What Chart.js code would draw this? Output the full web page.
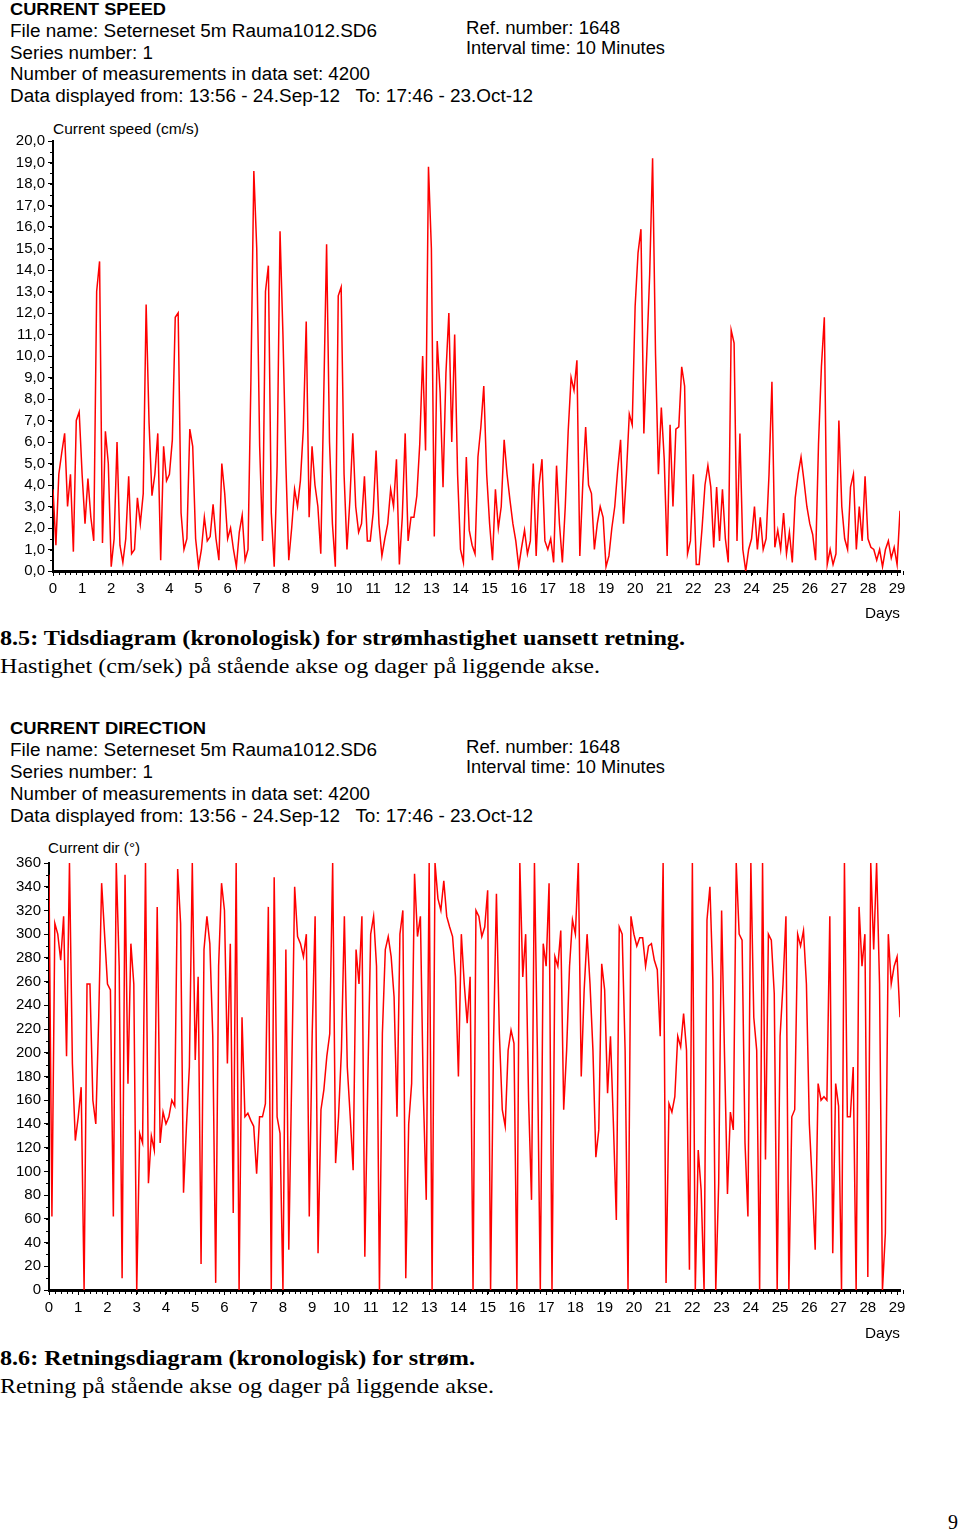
<!DOCTYPE html>
<html>
<head>
<meta charset="utf-8">
<title>Current speed / direction</title>
<script src="https://cdn.jsdelivr.net/npm/chart.js@4.4.1/dist/chart.umd.min.js"></script>
<style>
  body { margin:0; width:960px; height:1531px; background:#fff; position:relative; overflow:hidden;
         font-family:"Liberation Sans", Arial, sans-serif; color:#000; }
  .t { position:absolute; white-space:pre; line-height:1; transform-origin:0 50%; }
  .b { font-weight:bold; }
  .serif { font-family:"Liberation Serif", "Times New Roman", serif; }
  .box { position:absolute; left:0; width:960px; height:490px; }
</style>
</head>
<body>

<!-- speed header -->
<div class="t b" style="left:10px;top:1px;font-size:17px" data-w="156">CURRENT SPEED</div>
<div class="t" style="left:10px;top:22px;font-size:18px" data-w="367">File name: Seterneset 5m Rauma1012.SD6</div>
<div class="t" style="left:10px;top:44px;font-size:18px" data-w="143">Series number: 1</div>
<div class="t" style="left:10px;top:65px;font-size:18px" data-w="360">Number of measurements in data set: 4200</div>
<div class="t" style="left:10px;top:87px;font-size:18px" data-w="523">Data displayed from: 13:56 - 24.Sep-12   To: 17:46 - 23.Oct-12</div>
<div class="t" style="left:466px;top:19px;font-size:18px" data-w="154">Ref. number: 1648</div>
<div class="t" style="left:466px;top:39px;font-size:18px" data-w="199">Interval time: 10 Minutes</div>
<div class="t" style="left:53px;top:121px;font-size:15px" data-w="146">Current speed (cm/s)</div>

<div class="box" style="top:120px"><canvas id="speedChart" width="960" height="490"></canvas></div>

<div class="t" style="left:865px;top:605px;font-size:15px" data-w="35">Days</div>
<div class="t serif b" style="left:0px;top:627px;font-size:22px" data-w="685">8.5: Tidsdiagram (kronologisk) for strømhastighet uansett retning.</div>
<div class="t serif" style="left:0px;top:655px;font-size:22px" data-w="600">Hastighet (cm/sek) på stående akse og dager på liggende akse.</div>

<!-- direction header -->
<div class="t b" style="left:10px;top:720px;font-size:17px" data-w="196">CURRENT DIRECTION</div>
<div class="t" style="left:10px;top:741px;font-size:18px" data-w="367">File name: Seterneset 5m Rauma1012.SD6</div>
<div class="t" style="left:10px;top:763px;font-size:18px" data-w="143">Series number: 1</div>
<div class="t" style="left:10px;top:785px;font-size:18px" data-w="360">Number of measurements in data set: 4200</div>
<div class="t" style="left:10px;top:807px;font-size:18px" data-w="523">Data displayed from: 13:56 - 24.Sep-12   To: 17:46 - 23.Oct-12</div>
<div class="t" style="left:466px;top:738px;font-size:18px" data-w="154">Ref. number: 1648</div>
<div class="t" style="left:466px;top:758px;font-size:18px" data-w="199">Interval time: 10 Minutes</div>
<div class="t" style="left:48px;top:840px;font-size:15px" data-w="92">Current dir (°)</div>

<div class="box" style="top:840px"><canvas id="dirChart" width="960" height="490"></canvas></div>

<div class="t" style="left:865px;top:1325px;font-size:15px" data-w="35">Days</div>
<div class="t serif b" style="left:0px;top:1347px;font-size:22px" data-w="475">8.6: Retningsdiagram (kronologisk) for strøm.</div>
<div class="t serif" style="left:0px;top:1375px;font-size:22px" data-w="494">Retning på stående akse og dager på liggende akse.</div>
<div class="t serif" style="left:948px;top:1512px;font-size:20px">9</div>

<script>
/************** DATA **************/
// one reading every 0.1 day (day 0.0 .. 29.1)
const STEP_DAYS = 0.1;
const X_MAX_DAYS = 29.1;

const speedValues = [
  3.8, 1.2, 4.5, 5.5, 6.4, 3.0, 4.5, 0.9, 7.0, 7.4,
  4.5, 2.2, 4.3, 2.5, 1.4, 13.0, 14.4, 1.3, 6.5, 5.0,
  0.2, 1.5, 6.0, 1.2, 0.4, 1.5, 4.4, 0.8, 1.0, 3.4,
  2.2, 3.6, 12.4, 6.9, 3.5, 4.5, 6.4, 0.5, 5.8, 4.2,
  4.5, 6.1, 11.8, 12.0, 2.7, 1.0, 1.5, 6.6, 5.8, 1.5,
  0.2, 1.0, 2.5, 1.4, 1.6, 3.1, 1.5, 0.5, 5.0, 3.6,
  1.5, 2.0, 1.0, 0.2, 1.8, 2.6, 0.5, 1.0, 8.9, 18.6,
  15.0, 5.8, 1.4, 13.0, 14.2, 2.7, 0.2, 4.9, 15.8, 11.0,
  5.0, 0.5, 2.0, 3.8, 3.0, 4.2, 6.6, 11.6, 2.5, 5.8,
  4.0, 3.0, 0.8, 8.0, 15.2, 6.0, 2.2, 0.2, 12.8, 13.2,
  4.5, 1.0, 3.3, 6.4, 3.0, 1.8, 2.2, 4.4, 1.4, 1.4,
  2.7, 5.6, 2.2, 0.7, 1.5, 2.2, 3.8, 3.0, 5.2, 0.3,
  2.5, 6.4, 1.4, 2.5, 2.5, 3.5, 5.9, 10.0, 5.6, 18.8,
  15.0, 1.6, 10.7, 8.3, 3.9, 9.2, 12.0, 6.0, 11.0, 4.5,
  1.0, 0.4, 5.3, 1.9, 1.2, 0.8, 5.3, 6.7, 8.6, 4.5,
  2.2, 0.5, 3.8, 2.0, 3.0, 6.1, 4.5, 3.3, 2.2, 1.4,
  0.2, 1.1, 1.9, 0.8, 1.4, 5.0, 0.7, 4.0, 5.2, 1.4,
  1.0, 1.5, 0.4, 4.9, 2.2, 0.4, 3.0, 6.5, 9.0, 8.4,
  9.8, 0.7, 4.0, 6.7, 4.0, 3.6, 1.0, 2.2, 3.0, 2.5,
  0.2, 0.7, 2.0, 3.0, 4.7, 6.1, 2.2, 4.5, 7.3, 6.8,
  12.3, 14.8, 15.9, 6.4, 10.1, 13.8, 19.2, 10.1, 4.5, 7.6,
  5.2, 0.7, 6.8, 3.0, 6.6, 6.7, 9.5, 8.6, 0.8, 1.4,
  4.5, 0.3, 0.3, 2.0, 4.0, 4.9, 3.9, 1.1, 3.9, 1.4,
  3.8, 1.5, 0.4, 11.2, 10.6, 1.4, 6.4, 1.0, 0.0, 1.0,
  1.5, 3.0, 1.0, 2.5, 1.0, 1.5, 4.5, 8.8, 1.1, 1.9,
  1.0, 2.7, 0.8, 1.8, 0.4, 3.4, 4.5, 5.3, 4.2, 3.0,
  2.2, 1.7, 0.5, 5.9, 9.5, 11.8, 0.3, 1.0, 0.3, 0.8,
  7.0, 3.0, 1.5, 1.0, 3.9, 4.5, 1.0, 3.0, 1.4, 4.4,
  1.5, 1.1, 1.0, 0.5, 1.0, 0.2, 1.0, 1.4, 0.6, 1.1,
  0.3, 2.8
];

const dirValues = [
  350, 62, 309, 300, 278, 315, 197, 360, 191, 126,
  146, 171, 0, 258, 258, 160, 140, 230, 343, 300,
  258, 253, 62, 360, 273, 10, 350, 174, 292, 258,
  0, 132, 124, 360, 90, 130, 118, 323, 124, 150,
  140, 146, 160, 155, 355, 309, 82, 138, 188, 360,
  194, 264, 22, 287, 315, 292, 214, 6, 273, 343,
  320, 191, 292, 65, 360, 0, 230, 146, 149, 143,
  138, 98, 146, 146, 157, 323, 0, 348, 146, 132,
  0, 287, 34, 180, 340, 298, 292, 281, 300, 62,
  216, 315, 31, 152, 169, 197, 216, 360, 107, 146,
  202, 315, 188, 146, 101, 287, 258, 315, 28, 174,
  300, 315, 273, 0, 216, 287, 298, 281, 247, 146,
  300, 320, 10, 140, 174, 351, 298, 315, 166, 76,
  360, 0, 360, 330, 320, 345, 315, 306, 298, 264,
  180, 300, 258, 225, 264, 0, 320, 315, 298, 306,
  337, 0, 208, 334, 216, 152, 138, 202, 219, 208,
  0, 360, 264, 300, 160, 76, 360, 202, 0, 292,
  273, 343, 0, 281, 273, 303, 152, 202, 273, 312,
  300, 360, 180, 253, 300, 258, 202, 112, 135, 275,
  253, 166, 214, 140, 59, 306, 300, 202, 0, 315,
  300, 290, 297, 297, 273, 290, 292, 278, 270, 214,
  360, 6, 157, 150, 163, 214, 205, 233, 202, 17,
  360, 0, 118, 84, 0, 312, 340, 261, 0, 90,
  320, 197, 81, 150, 135, 360, 300, 295, 124, 62,
  360, 230, 202, 0, 360, 110, 300, 295, 250, 0,
  214, 258, 315, 0, 146, 152, 300, 290, 303, 258,
  140, 90, 34, 174, 160, 163, 160, 315, 31, 174,
  155, 0, 360, 146, 146, 188, 0, 323, 273, 300,
  11, 360, 287, 360, 258, 0, 48, 300, 258, 273,
  281, 230
];

/************** HELPERS **************/
function toPoints(values) {
  return values.map((v, i) => ({ x: +(i * STEP_DAYS).toFixed(1), y: v }));
}

// small ticks between the labelled ones
const minorTicks = {
  id: "minorTicks",
  afterDraw(chart, args, opts) {
    const { ctx, scales: { x, y } } = chart;
    ctx.save();
    ctx.strokeStyle = "#000";
    ctx.lineWidth = 1;
    ctx.beginPath();
    const nx = Math.round(x.max / opts.xStep);
    for (let i = 0; i <= nx; i++) {
      const px = Math.round(x.getPixelForValue(i * opts.xStep)) + 0.5;
      ctx.moveTo(px, x.top);
      ctx.lineTo(px, x.top + 4);
    }
    const ny = Math.round((y.max - y.min) / opts.yStep);
    for (let i = 0; i <= ny; i++) {
      const py = Math.round(y.getPixelForValue(y.min + i * opts.yStep)) + 0.5;
      ctx.moveTo(y.right - 3, py);
      ctx.lineTo(y.right, py);
    }
    ctx.stroke();
    ctx.restore();
  }
};

const tickFont = { family: "'Liberation Sans', Arial, sans-serif", size: 15 };

function makeChart(id, values, cfg) {
  return new Chart(document.getElementById(id), {
    type: "line",
    data: {
      datasets: [{
        data: toPoints(values),
        borderColor: "#ff0000",
        borderWidth: 1.5,
        pointRadius: 0,
        tension: 0
      }]
    },
    options: {
      responsive: false,
      animation: false,
      devicePixelRatio: 1,
      layout: { padding: { top: cfg.padTop, right: 60, bottom: 0, left: 0 } },
      plugins: {
        legend: { display: false },
        tooltip: { enabled: false },
        minorTicks: { xStep: 0.2, yStep: cfg.yMinor }
      },
      scales: {
        x: {
          type: "linear",
          min: 0,
          max: X_MAX_DAYS,
          afterFit: s => { s.height = cfg.xHeight; },
          border: { color: "#000", width: 3 },
          grid: { drawOnChartArea: false, color: "#000", tickLength: 5 },
          ticks: { stepSize: 1, includeBounds: false, autoSkip: false, maxRotation: 0,
                   color: "#000", font: tickFont, padding: 4 }
        },
        y: {
          min: cfg.yMin,
          max: cfg.yMax,
          afterFit: s => { s.width = cfg.yWidth; },
          border: { color: "#000", width: 2 },
          grid: { drawOnChartArea: false, color: "#000", tickLength: 5 },
          ticks: { stepSize: cfg.yStep, autoSkip: false, color: "#000", font: tickFont,
                   padding: 3, callback: cfg.yLabel }
        }
      }
    },
    plugins: [minorTicks]
  });
}

/************** CHARTS **************/
makeChart("speedChart", speedValues, {
  padTop: 21, xHeight: 39, yWidth: 53,
  yMin: 0, yMax: 20, yStep: 1, yMinor: 0.5,
  yLabel: v => v.toFixed(1).replace(".", ",")
});

makeChart("dirChart", dirValues, {
  padTop: 23, xHeight: 40, yWidth: 49,
  yMin: 0, yMax: 360, yStep: 20, yMinor: 10,
  yLabel: v => v
});

/************** TEXT WIDTHS **************/
document.querySelectorAll("[data-w]").forEach(el => {
  const w = el.getBoundingClientRect().width;
  if (w > 0) el.style.transform = "scaleX(" + (el.dataset.w / w) + ")";
});
</script>
</body>
</html>
